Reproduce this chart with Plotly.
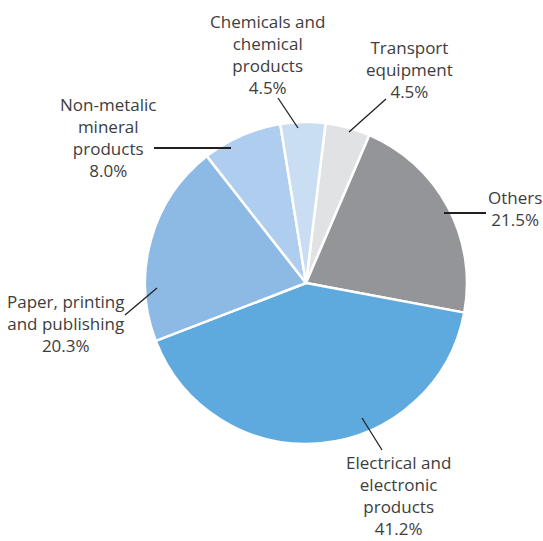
import plotly.graph_objects as go

# ---- data ----
categories = ["Transport equipment", "Others", "Electrical and electronic products",
              "Paper, printing and publishing", "Non-metalic mineral products",
              "Chemicals and chemical products"]
shares = [4.5, 21.5, 41.2, 20.3, 8.0, 4.5]
label_text = ["Transport<br>equipment", "Others", "Electrical and<br>electronic<br>products",
              "Paper, printing<br>and publishing", "Non-metalic<br>mineral<br>products",
              "Chemicals and<br>chemical<br>products"]

colors = ["#e1e2e4", "#939598", "#5ea9dd", "#8dbae5", "#aecdef", "#c9ddf3"]

W, H = 543, 541
CX, CY, R = 306, 283, 161

# label layout (pixel positions of text block centers and leader lines)
label_pos = [(409, 70), (515, 208), (398, 496), (65, 323), (108, 137), (267, 54)]
leaders = [((349, 132), (386, 99), 1.3),
           ((444, 213), (486, 213), 2.0),
           ((362, 418), (382, 450), 1.3),
           ((157, 288), (125, 315), 1.3),
           ((231, 148), (154, 148), 2.0),
           ((298, 128), (278, 98), 1.3)]

def px(x):
    return x / W

def py(y):
    return 1 - y / H

fig = go.Figure(go.Pie(
    labels=categories,
    values=shares,
    sort=False,
    direction="clockwise",
    rotation=7,
    marker=dict(colors=colors, line=dict(color="white", width=2.5)),
    textinfo="none",
    hoverinfo="label+percent",
    showlegend=False,
    domain=dict(x=[px(CX - R), px(CX + R)], y=[py(CY + R), py(CY - R)]),
))

annotations = []
for txt, v, (x, y) in zip(label_text, shares, label_pos):
    annotations.append(dict(
        x=px(x), y=py(y), xref="paper", yref="paper",
        text=f"{txt}<br>{v:.1f}%", showarrow=False,
        xanchor="center", yanchor="middle", align="center",
        font=dict(family="Open Sans", size=17, color="#3d3d3d"),
    ))

shapes = []
for (x0, y0), (x1, y1), w in leaders:
    shapes.append(dict(type="line", xref="paper", yref="paper",
                       x0=px(x0), y0=py(y0), x1=px(x1), y1=py(y1),
                       line=dict(color="#231f20", width=w)))

fig.update_layout(
    width=W, height=H,
    margin=dict(l=0, r=0, t=0, b=0),
    paper_bgcolor="white", plot_bgcolor="white",
    annotations=annotations, shapes=shapes,
)

fig.write_html("out.html")
